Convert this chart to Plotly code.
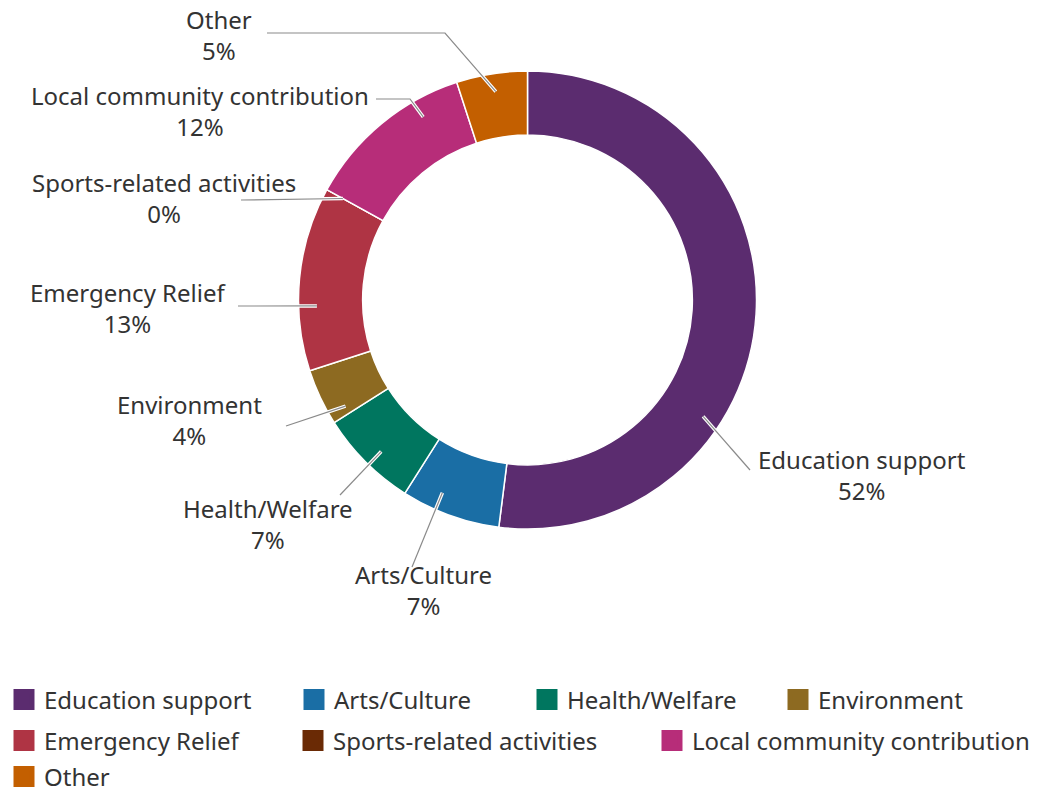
import math
import plotly.graph_objects as go

W, H = 1046, 796

# ---- data -------------------------------------------------------------
categories = [
    "Education support", "Arts/Culture", "Health/Welfare", "Environment",
    "Emergency Relief", "Sports-related activities",
    "Local community contribution", "Other",
]
shares = [52, 7, 7, 4, 13, 0, 12, 5]
colors = ["#5b2c6f", "#1a6ea5", "#00765f", "#8d6a21",
          "#af3444", "#6a2a05", "#b72d79", "#c35f00"]

# ---- layout constants (pixels) -----------------------------------------
CX, CY, R_OUT = 527.5, 300, 229
HOLE = 0.72
FONT = "Noto Sans"
TEXT_COLOR = "#333333"
FONT_SIZE = 24


def paper(x, y):
    return x / W, 1 - y / H


# text centre, leader-line waypoints, and where along the slice the line lands
label_layout = {
    "Education support": dict(text=(862, 475), path=[(750, 470)], at=0.66),
    "Arts/Culture": dict(text=(423, 590), path=[(412, 567)], at=0.66),
    "Health/Welfare": dict(text=(268, 524), path=[(340, 495)], at=0.46),
    "Environment": dict(text=(189, 420), path=[(286, 426)], at=0.15),
    "Emergency Relief": dict(text=(128, 308), path=[(238, 306)], at=0.35),
    "Sports-related activities": dict(text=(164, 198), path=[(241, 200)], at=0.0),
    "Local community contribution": dict(text=(200, 111), path=[(376, 99), (410, 99)], at=0.73),
    "Other": dict(text=(219, 35), path=[(267, 33), (445, 33)], at=0.52),
}

# legend rows: symbol centre (x, y) for each entry
legend_slots = [
    (24, 700), (314, 700), (547, 700), (798, 700),
    (24, 741), (313, 741), (672, 741),
    (24, 777),
]

fig = go.Figure()

x0, y_top = paper(CX - R_OUT, CY - R_OUT)
x1, y_bot = paper(CX + R_OUT, CY + R_OUT)
fig.add_trace(go.Pie(
    labels=categories,
    values=shares,
    marker=dict(colors=colors, line=dict(color="white", width=1.5)),
    hole=HOLE,
    sort=False,
    direction="clockwise",
    rotation=0,
    textinfo="none",
    showlegend=False,
    domain=dict(x=[x0, x1], y=[y_bot, y_top]),
))

# legend entries (one legend per slot so rows keep their own spacing)
for i, (name, col) in enumerate(zip(categories, colors)):
    key = "legend" if i == 0 else f"legend{i + 1}"
    fig.add_trace(go.Scatter(
        x=[None], y=[None], mode="markers", name=name,
        marker=dict(symbol="square", size=16, color=col,
                    line=dict(color=col, width=5)),
        legend=key, hoverinfo="skip",
    ))
    sx, sy = legend_slots[i]
    lx, ly = paper(sx - 20, sy)
    fig.update_layout({key: dict(
        x=lx, y=ly, xref="container", yref="container",
        xanchor="left", yanchor="middle",
        orientation="h", bgcolor="rgba(0,0,0,0)", borderwidth=0,
        itemsizing="trace",
        font=dict(family=FONT, size=FONT_SIZE, color=TEXT_COLOR),
    )})

# outside labels with leader lines
total = sum(shares)
cum = 0
for name, val in zip(categories, shares):
    spec = label_layout[name]
    frac = (cum + spec["at"] * val) / total
    cum += val
    ang = 2 * math.pi * frac
    r = 0.92 * R_OUT
    ex, ey = CX + r * math.sin(ang), CY - r * math.cos(ang)
    pts = spec["path"] + [(ex, ey)]
    d = "M " + " L ".join(f"{paper(px, py)[0]:.5f},{paper(px, py)[1]:.5f}" for px, py in pts)
    fig.add_shape(type="path", path=d, xref="paper", yref="paper",
                  line=dict(color="white", width=3.5))
    fig.add_shape(type="path", path=d, xref="paper", yref="paper",
                  line=dict(color="#8a8a8a", width=1.2))
    tx, ty = paper(*spec["text"])
    fig.add_annotation(
        x=tx, y=ty, xref="paper", yref="paper", showarrow=False,
        xanchor="center", yanchor="middle",
        text=f"{name}<br>{val}%",
        font=dict(family=FONT, size=FONT_SIZE, color=TEXT_COLOR),
    )

fig.update_layout(
    width=W, height=H,
    margin=dict(l=0, r=0, t=0, b=0, autoexpand=False),
    paper_bgcolor="white", plot_bgcolor="white",
    xaxis=dict(visible=False), yaxis=dict(visible=False),
)

fig.write_html("out.html")
